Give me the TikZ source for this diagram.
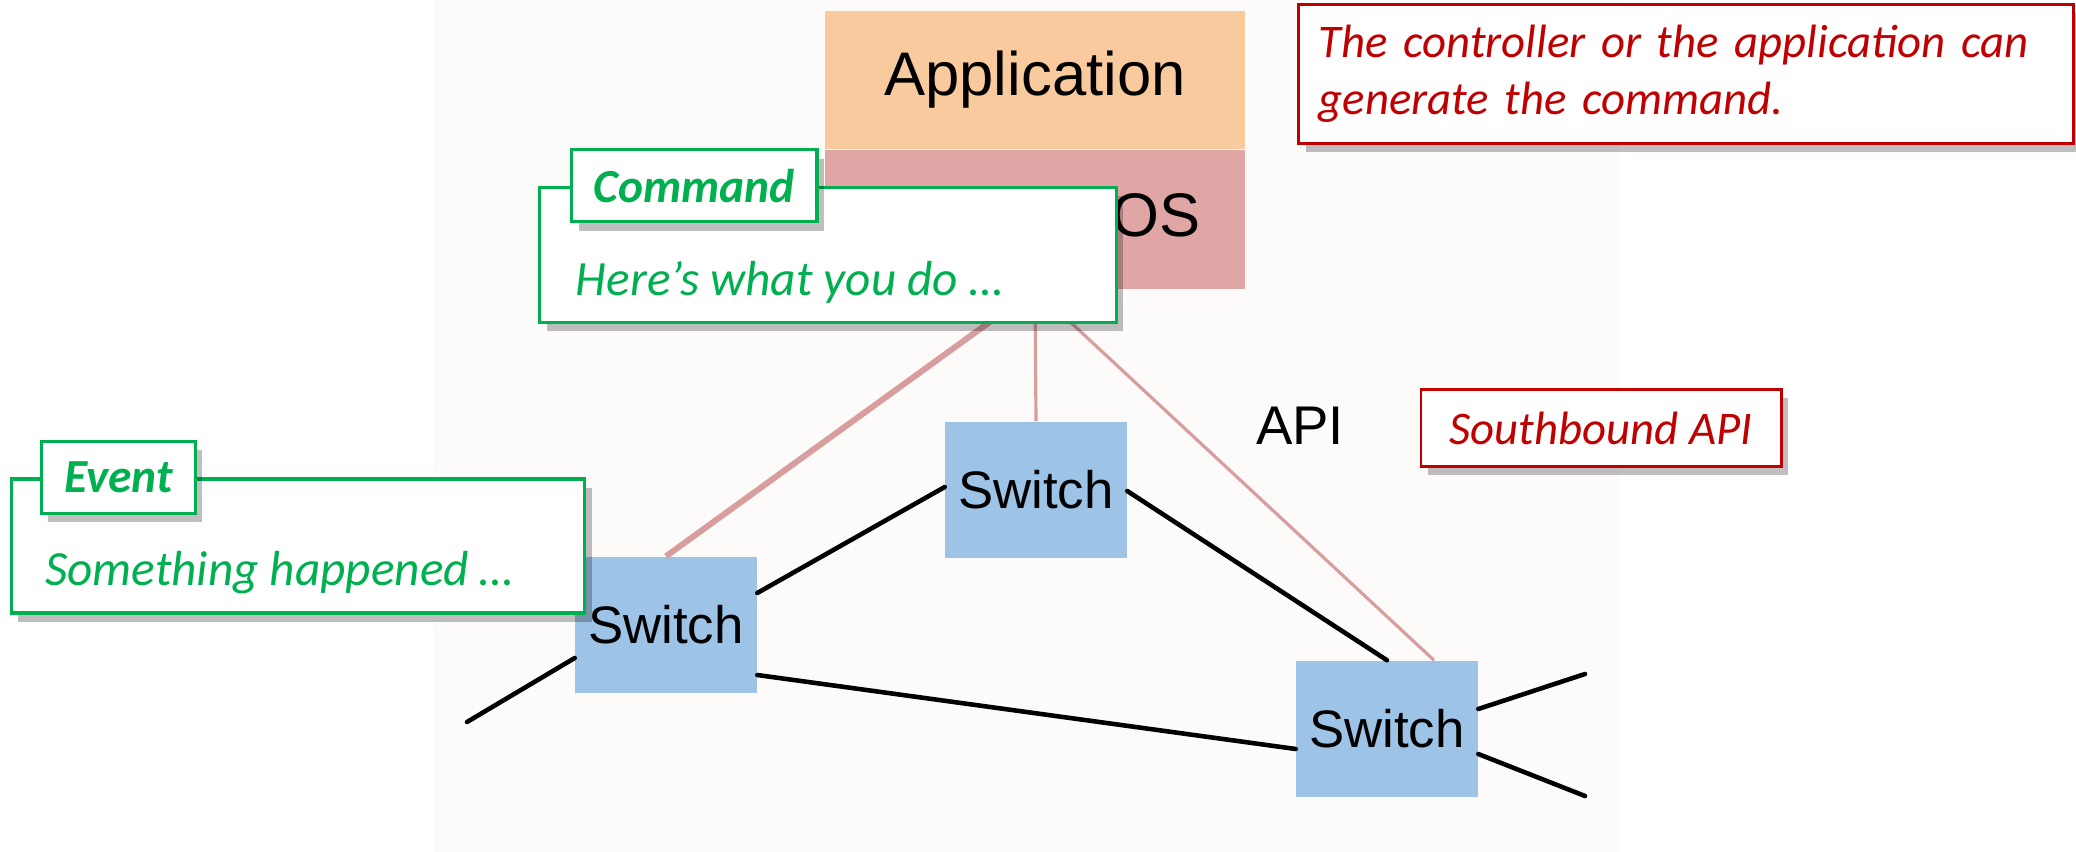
\documentclass[tikz,border=0pt]{standalone}
\usepackage{fontspec}
\setmainfont{Carlito}
\newfontfamily\arialfont{Liberation Sans}
\usetikzlibrary{calc,shadows}
\definecolor{appcolor}{RGB}{249,202,158}
\definecolor{noscolor}{RGB}{224,166,166}
\definecolor{switchcolor}{RGB}{157,195,230}
\definecolor{calloutgreen}{RGB}{0,176,80}
\definecolor{calloutred}{RGB}{192,0,0}
\definecolor{linkpink}{RGB}{216,158,158}
\definecolor{screenbg}{RGB}{253,250,250}
\tikzset{
  layer/.style={rectangle, minimum width=4.2cm, minimum height=1.38cm, inner sep=0pt,
    font=\arialfont\fontsize{17.5}{20}\selectfont},
  switchbox/.style={rectangle, fill=switchcolor, minimum width=1.81cm, minimum height=1.36cm,
    inner sep=0pt, font=\arialfont\fontsize{15}{18}\selectfont},
  link/.style={line width=1.3pt, black, line cap=round},
  ctrl/.style={line width=0.9pt, linkpink},
  box shadow/.style={drop shadow={shadow xshift=2pt, shadow yshift=-2.5pt, opacity=0.25, fill=black}},
  callbox/.style={rectangle, draw=calloutgreen, line width=0.9pt, fill=white, inner sep=0pt, box shadow},
  calltab/.style={callbox, minimum height=0.72cm, text=calloutgreen,
    font=\fontsize{13.5}{16}\selectfont\bfseries\itshape},
  calltext/.style={inner sep=0pt, text=calloutgreen, font=\fontsize{14}{16}\selectfont\itshape},
  notebox/.style={rectangle, draw=calloutred, line width=0.8pt, fill=white, text=calloutred,
    font=\fontsize{13.3}{16.2}\selectfont\itshape, box shadow},
}

\begin{document}
\begin{tikzpicture}[x=0.01cm, y=-0.01cm]
  \useasboundingbox (0,0) rectangle (2076,852);
  % screenshot area
  \fill[screenbg] (433,0) rectangle (1620,852);

  % controller stack
  \node[layer, fill=appcolor] (app) at (1035,80) {Application\hspace{0.2cm}};
  \node[layer, fill=noscolor, anchor=north] (nos) at (app.south) {};
  \node[inner sep=0pt, anchor=east, font=\arialfont\fontsize{17.5}{20}\selectfont]
    (nostext) at ($(nos.east)+(-45,-4)$) {OS};

  % switches
  \node[switchbox] (swm) at (1036,490) {Switch};
  \node[switchbox] (swl) at (666,625) {Switch};
  \node[switchbox] (swr) at (1387,729) {Switch};
  \coordinate (lout) at (467,722);
  \coordinate (routa) at (1585,674);
  \coordinate (routb) at (1585,796);

  % southbound links
  \draw[ctrl, line width=1.7pt] (nos.south) -- (swl.north);
  \draw[ctrl] (nos.south) -- (swm.north);
  \draw[ctrl] (nos.south) -- ($(swr.north)+(47,0)$);

  % data plane links
  \draw[link] ($(swl.east)+(0,-32)$) -- ($(swm.west)+(0,-3)$);
  \draw[link] ($(swl.east)+(0,50)$) -- ($(swr.west)+(0,20)$);
  \draw[link] ($(swm.east)+(0,1)$) -- (swr.north);
  \draw[link] ($(swl.west)+(0,33)$) -- (lout);
  \draw[link] ($(swr.east)+(0,-20)$) -- (routa);
  \draw[link] ($(swr.east)+(0,25)$) -- (routb);

  \node[inner sep=0pt, font=\arialfont\fontsize{15.5}{18}\selectfont] (api) at (1300,426) {API};

  % notes
  \node[notebox, text width=7.34cm, inner xsep=0.2cm, minimum height=1.39cm, align=left]
    (gennote) at (1686,74) {The controller or the application can\\generate the command.};
  \node[notebox, minimum width=3.6cm, minimum height=0.77cm] (sbnote) at (1601,428) {Southbound API};

  % command callout
  \node[callbox, minimum width=5.76cm, minimum height=1.35cm] (cmdbox) at (828,255) {};
  \node[calltext, anchor=west] (cmdtext) at ($(cmdbox.west)+(37,27)$) {Here’s what you do …};
  \node[calltab, minimum width=2.45cm, anchor=west] (cmdtab) at ($(cmdbox.north west)+(32,0)$) {Command};

  % event callout
  \node[callbox, minimum width=5.73cm, minimum height=1.34cm] (evbox) at (298,546) {};
  \node[calltext, anchor=west] (evtext) at ($(evbox.west)+(35,27)$) {Something happened …};
  \node[calltab, minimum width=1.54cm, anchor=west] (evtab) at ($(evbox.north west)+(30,0)$) {Event};
\end{tikzpicture}
\end{document}
